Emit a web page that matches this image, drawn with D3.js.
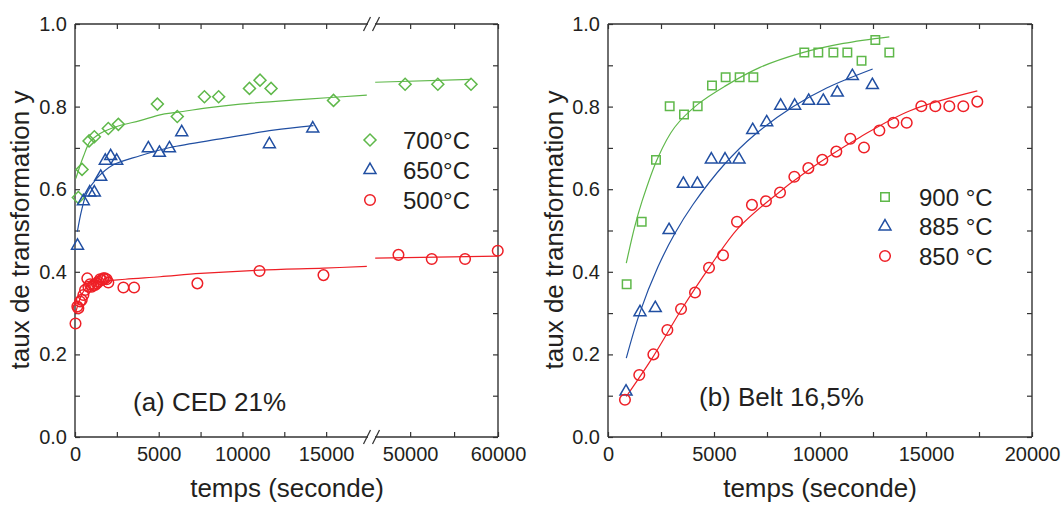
<!DOCTYPE html>
<html><head><meta charset="utf-8">
<script src="https://cdn.jsdelivr.net/npm/d3@7"></script>
<style>
body{margin:0;background:#fff;}
text{font-family:"Liberation Sans",Arial,sans-serif;fill:#231f20;}
</style></head>
<body><svg id="c" width="1062" height="505"></svg>
<script>
// ---------------- DATA ----------------
// Panel (a) CED 21%
const a700 = [[200,0.580],[420,0.648],[840,0.717],[1155,0.727],[1990,0.747],[2590,0.757],[4920,0.806],[6110,0.776],[7730,0.824],[8580,0.824],[10420,0.844],[11050,0.864],[11710,0.844],[15440,0.815],[49430,0.854],[53150,0.854],[56930,0.854]];
const a650 = [[150,0.463],[500,0.571],[880,0.592],[1155,0.592],[1535,0.630],[1810,0.669],[2130,0.680],[2490,0.669],[4380,0.699],[5040,0.688],[5640,0.699],[6375,0.738],[11610,0.709],[14200,0.747]];
const a500 = [[30,0.275],[140,0.316],[200,0.312],[300,0.328],[400,0.332],[500,0.344],[600,0.356],[735,0.384],[800,0.364],[900,0.370],[1000,0.364],[1100,0.368],[1200,0.368],[1300,0.372],[1400,0.376],[1500,0.382],[1600,0.380],[1690,0.384],[1790,0.384],[1890,0.382],[1990,0.374],[2890,0.362],[3530,0.362],[7310,0.372],[11020,0.402],[14840,0.392],[48670,0.441],[52460,0.431],[56250,0.431],[59970,0.451]];
// fitted curves (segment 1 and segment 2)
const a700fit1 = [[50,0.626],[500,0.679],[900,0.715],[1500,0.735],[2590,0.753],[3884,0.766],[5080,0.780],[6077,0.786],[7900,0.797],[9860,0.806],[13846,0.818],[17430,0.828]];
const a700fit2 = [[46020,0.859],[56900,0.866]];
const a650fit1 = [[140,0.497],[400,0.550],[700,0.590],[1300,0.626],[2290,0.659],[3884,0.681],[5680,0.701],[8860,0.723],[11850,0.743],[14240,0.754]];
const a500fit1 = [[30,0.300],[300,0.335],[600,0.358],[900,0.368],[1500,0.376],[3000,0.382],[5080,0.388],[7500,0.396],[11000,0.404],[14840,0.409],[17430,0.413]];
const a500fit2 = [[46020,0.433],[59970,0.438]];
// Panel (b) Belt 16,5%
const b900 = [[880,0.370],[1590,0.521],[2264,0.671],[2910,0.801],[3585,0.781],[4230,0.801],[4905,0.851],[5550,0.871],[6210,0.871],[6855,0.871],[9260,0.931],[9920,0.931],[10630,0.931],[11290,0.931],[11960,0.911],[12610,0.961],[13270,0.931]];
const b885 = [[850,0.110],[1510,0.302],[2230,0.312],[2880,0.501],[3555,0.613],[4215,0.613],[4875,0.672],[5520,0.672],[6180,0.672],[6825,0.743],[7485,0.762],[8145,0.802],[8805,0.802],[9465,0.814],[10155,0.814],[10815,0.834],[11525,0.874],[12470,0.852]];
const b850 = [[800,0.090],[1475,0.150],[2140,0.200],[2800,0.259],[3445,0.310],[4105,0.350],[4765,0.410],[5425,0.440],[6085,0.521],[6790,0.562],[7450,0.571],[8115,0.592],[8790,0.630],[9450,0.651],[10110,0.671],[10770,0.691],[11430,0.722],[12075,0.701],[12800,0.742],[13460,0.761],[14090,0.761],[14780,0.801],[15440,0.801],[16100,0.801],[16760,0.801],[17420,0.812]];
const b900fit = [[863,0.421],[1258,0.509],[1600,0.570],[2358,0.677],[3145,0.750],[4245,0.806],[5503,0.849],[7170,0.895],[9057,0.929],[11100,0.953],[13270,0.969]];
const b885fit = [[863,0.191],[1494,0.300],[2358,0.412],[3145,0.492],[4009,0.563],[5503,0.661],[6918,0.732],[8742,0.800],[10314,0.845],[12484,0.891]];
const b850fit = [[863,0.098],[2123,0.194],[3458,0.308],[4797,0.412],[6132,0.505],[7547,0.571],[9528,0.649],[11887,0.726],[14245,0.790],[17420,0.838]];

const yMajor = [0,0.2,0.4,0.6,0.8,1.0];
const yMinor = [0.1,0.3,0.5,0.7,0.9];
const aSeg1Major = [0,5000,10000,15000], aSeg1Minor = [2500,7500,12500];
const aSeg2Major = [50000,60000], aSeg2Minor = [55000];
const bMajor = [0,5000,10000,15000,20000], bMinor = [2500,7500,12500,17500];
const legendA = ["700°C","650°C","500°C"];
const legendB = ["900 °C","885 °C","850 °C"];

// ---------------- DRAW ----------------
const svg = d3.select("#c");
const GREEN="#5fb84a", BLUE="#214fa2", RED="#ee1f26", INK="#333";
const yTop=24, yBot=437;
const y = d3.scaleLinear([0,1],[yBot,yTop]);
const xa1 = d3.scaleLinear([0,17500],[75,368]);
const xa2 = d3.scaleLinear([46000,60000],[375,498]);
const xb = d3.scaleLinear([0,20000],[608,1032]);

function styleAxis(g){
  g.select(".domain").remove();
  g.selectAll("line").attr("stroke",INK).attr("stroke-width",1.2);
  g.selectAll("text").style("font-size","20px").attr("fill","#231f20").style("font-family",'"Liberation Sans",Arial,sans-serif');
}
function yAxes(x0,x1){
  svg.append("g").attr("transform",`translate(${x0},0)`).call(d3.axisLeft(y).tickValues(yMajor).tickSize(-5).tickPadding(8).tickFormat(d3.format(".1f"))).call(styleAxis);
  svg.append("g").attr("transform",`translate(${x0},0)`).call(d3.axisLeft(y).tickValues(yMinor).tickSize(-5).tickFormat("")).call(styleAxis);
  svg.append("g").attr("transform",`translate(${x1},0)`).call(d3.axisRight(y).tickValues(yMajor.concat(yMinor)).tickSize(-5).tickFormat("")).call(styleAxis);
}
function xAxes(sc,major,minor){
  svg.append("g").attr("transform",`translate(0,${yBot})`).call(d3.axisBottom(sc).tickValues(major).tickSize(-5).tickPadding(10).tickFormat(d3.format("d"))).call(styleAxis);
  svg.append("g").attr("transform",`translate(0,${yBot})`).call(d3.axisBottom(sc).tickValues(minor).tickSize(-5).tickFormat("")).call(styleAxis);
  svg.append("g").attr("transform",`translate(0,${yTop})`).call(d3.axisTop(sc).tickValues(major.concat(minor)).tickSize(-5).tickFormat("")).call(styleAxis);
}
function frameLine(x1,y1,x2,y2){
  svg.append("line").attr("x1",x1).attr("y1",y1).attr("x2",x2).attr("y2",y2).attr("stroke",INK).attr("stroke-width",1.4);
}
// panel a frame
yAxes(75,498);
xAxes(xa1,aSeg1Major,aSeg1Minor);
xAxes(xa2,aSeg2Major,aSeg2Minor);
frameLine(75,yTop,75,yBot); frameLine(498,yTop,498,yBot);
[yTop,yBot].forEach(yy=>{
  frameLine(xa1.range()[0],yy,xa1.range()[1],yy);
  frameLine(xa2.range()[0],yy,xa2.range()[1],yy);
  [xa1.range()[1]-1, xa2.range()[0]+1].forEach(xx=>{
    svg.append("line").attr("x1",xx-3.5).attr("y1",yy+7).attr("x2",xx+3.5).attr("y2",yy-7).attr("stroke",INK).attr("stroke-width",1.2);
  });
});
// panel b frame
yAxes(608,1032);
xAxes(xb,bMajor,bMinor);
frameLine(608,yTop,608,yBot); frameLine(1032,yTop,1032,yBot);
frameLine(608,yTop,1032,yTop); frameLine(608,yBot,1032,yBot);

// markers
const shapes = {
  diamond: d3.symbol().type(d3.symbolSquare).size(72),
  triangle: d3.symbol().type(d3.symbolTriangle).size(62),
  circle: d3.symbol().type(d3.symbolCircle).size(88),
  square: d3.symbol().type(d3.symbolSquare).size(72)
};
function pts(data,xf,shape,color){
  svg.append("g").selectAll("path").data(data).join("path")
    .attr("d",shapes[shape]())
    .attr("transform",d=>`translate(${xf(d[0])},${y(d[1])})`+(shape==="diamond"?" rotate(45)":""))
    .attr("fill","none").attr("stroke",color).attr("stroke-width",1.5);
}
function fit(data,xf,color){
  svg.append("path").datum(data)
    .attr("d",d3.line().x(d=>xf(d[0])).y(d=>y(d[1])).curve(d3.curveCatmullRom.alpha(0.5)))
    .attr("fill","none").attr("stroke",color).attr("stroke-width",1.2);
}
const xaAll = d=> d<=17500 ? xa1(d) : xa2(d);

fit(a700fit1,xa1,GREEN); fit(a700fit2,xa2,GREEN);
fit(a650fit1,xa1,BLUE);
fit(a500fit1,xa1,RED); fit(a500fit2,xa2,RED);
pts(a700,xaAll,"diamond",GREEN);
pts(a650,xaAll,"triangle",BLUE);
pts(a500,xaAll,"circle",RED);

fit(b900fit,xb,GREEN); fit(b885fit,xb,BLUE); fit(b850fit,xb,RED);
pts(b900,xb,"square",GREEN);
pts(b885,xb,"triangle",BLUE);
pts(b850,xb,"circle",RED);

// legends
function legend(labels,mx,tx,y0,dy,shapesL,colors){
  labels.forEach((lab,i)=>{
    const yy=y0+i*dy;
    svg.append("path").attr("d",shapes[shapesL[i]]()).attr("transform",`translate(${mx},${yy})`+(shapesL[i]==="diamond"?" rotate(45)":""))
      .attr("fill","none").attr("stroke",colors[i]).attr("stroke-width",1.5);
    svg.append("text").attr("x",tx).attr("y",yy+8.5).style("font-size","24px").text(lab);
  });
}
legend(legendA,370,403,140,30,["diamond","triangle","circle"],[GREEN,BLUE,RED]);
legend(legendB,885,919,197,29.5,["square","triangle","circle"],[GREEN,BLUE,RED]);

// annotations
svg.append("text").attr("x",133).attr("y",411).style("font-size","26px").text("(a) CED 21%");
svg.append("text").attr("x",699).attr("y",406).style("font-size","26px").text("(b) Belt 16,5%");

// axis titles
[[29,287],[563,820]].forEach(([lx,cx])=>{
  svg.append("text").attr("transform",`translate(${lx},230) rotate(-90)`).attr("text-anchor","middle").style("font-size","26px").text("taux de transformation y");
  svg.append("text").attr("x",cx).attr("y",497).attr("text-anchor","middle").style("font-size","26px").text("temps (seconde)");
});
</script></body></html>
